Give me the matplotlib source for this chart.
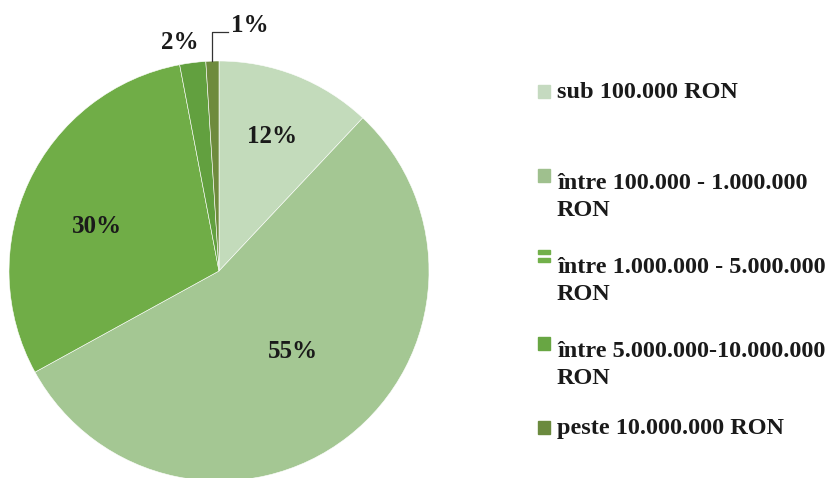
import numpy as np
import matplotlib
matplotlib.use("Agg")
import matplotlib.pyplot as plt
from matplotlib.patches import Rectangle

plt.rcParams["font.family"] = ["Liberation Serif", "DejaVu Serif"]

# data
shares = [12, 55, 30, 2, 1]
slice_colors = ["#c3dbbb", "#a4c793", "#70ad47", "#62a03f", "#6e8b3d"]
legend_labels = ["sub 100.000 RON",
                 "între 100.000 - 1.000.000\nRON",
                 "între 1.000.000 - 5.000.000\nRON",
                 "între 5.000.000-10.000.000\nRON",
                 "peste 10.000.000 RON"]
legend_colors = ["#c5dac0", "#9fc08e", "#72b04a", "#68a643", "#6b8a3e"]

INK = "#1a1a1a"
W, H = 837, 478
fig = plt.figure(figsize=(W / 100, H / 100), dpi=100)
fig.patch.set_facecolor("white")

# pie axes: centre at (219, 271) px, radius 210 px
cx, cy, R = 219, 271, 210
ax = fig.add_axes([0, 0, 440 / W, 1])

wedges, _ = ax.pie(shares, colors=slice_colors, startangle=90, counterclock=False,
                   radius=1, wedgeprops=dict(edgecolor="white", linewidth=0.4))
ax.set_aspect("auto")
ax.set_xlim(-cx / R, (440 - cx) / R)
ax.set_ylim(-(H - cy) / R, cy / R)
ax.axis("off")

# inside labels: per-slice radius and small angle nudge
inside_r = [0.69, 0.52, 0.62]
inside_dang = [0, 4.6, 5.2]
for w, r, da, v in zip(wedges[:3], inside_r, inside_dang, shares[:3]):
    mid = np.deg2rad((w.theta1 + w.theta2) / 2 + da)
    ax.text(r * np.cos(mid), r * np.sin(mid), f"{v}%", ha="center", va="center",
            fontsize=18, fontweight="bold", color=INK)

# small slices: 2% plain label, 1% with a leader line
ax.text(-0.186, 1.086, f"{shares[3]}%", ha="center", va="center",
        fontsize=18, fontweight="bold", color=INK)
w = wedges[4]
mid = np.deg2rad((w.theta1 + w.theta2) / 2)
x0, y0 = np.cos(mid), np.sin(mid)
ax.plot([x0, x0, x0 + 0.075], [y0, 1.14, 1.14], color="#333333", lw=0.9,
        clip_on=False)
ax.text(x0 + 0.09, 1.17, f"{shares[4]}%", ha="left", va="center",
        fontsize=18, fontweight="bold", color=INK)

# legend drawn by hand, one slot per entry
LINE = 34
for i, (lab, col) in enumerate(zip(legend_labels, legend_colors)):
    base = 98 + 84 * i
    yb = 1 - base / H
    if i == 2:
        for top in (250, 258):
            fig.add_artist(Rectangle((538 / W, 1 - (top + 4) / H), 12 / W, 4 / H,
                                     transform=fig.transFigure, color=col))
    else:
        fig.add_artist(Rectangle((538 / W, yb), 12 / W, 13 / H,
                                 transform=fig.transFigure, color=col))
    nlines = lab.count("\n")
    fig.text(557 / W, 1 - (base + LINE * nlines) / H, lab, ha="left", va="baseline",
             fontsize=17.5, fontweight="bold", color=INK, linespacing=1.40)

fig.savefig("out.png", dpi=100)
